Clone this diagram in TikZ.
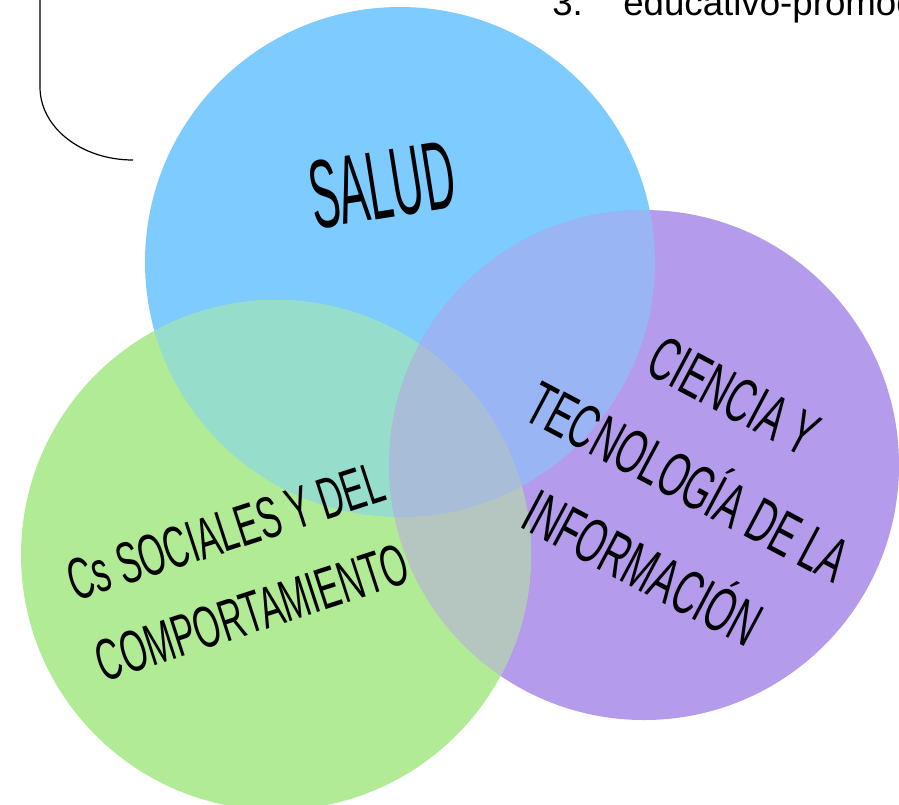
\documentclass[tikz,border=0pt]{standalone}
\usepackage{fontspec}
\setmainfont{Liberation Sans}
\newfontfamily\handA[FakeStretch=0.45]{Liberation Sans}
\newfontfamily\handB[FakeStretch=0.58]{Liberation Sans}
\definecolor{cblue}{RGB}{126,203,255}
\definecolor{cgreen}{RGB}{178,235,150}
\definecolor{cpurple}{RGB}{181,155,235}
\definecolor{cbg}{RGB}{151,221,204}
\definecolor{cbp}{RGB}{153,181,243}
\definecolor{cgp}{RGB}{181,197,191}
\definecolor{cbgp}{RGB}{168,189,216}
\begin{document}
\begin{tikzpicture}[x=0.75pt,y=-0.75pt,
  lbl/.style={text=black, align=center, inner sep=0pt}]
\useasboundingbox (0,0) rectangle (899,804);
\clip (0,0) rectangle (899,804);
\fill[white] (0,0) rectangle (899,804);
\coordinate (cB) at (400,262);
\coordinate (cP) at (644,465);
\coordinate (cG) at (276,555);
\def\rr{191.25pt}
% circles
\fill[cblue] (cB) circle [radius=\rr];
\fill[cpurple] (cP) circle [radius=\rr];
\fill[cgreen] (cG) circle [radius=\rr];
% pairwise overlaps
\begin{scope}
  \clip (cB) circle [radius=\rr];
  \fill[cbp] (cP) circle [radius=\rr];
  \fill[cbg] (cG) circle [radius=\rr];
\end{scope}
\begin{scope}
  \clip (cP) circle [radius=\rr];
  \fill[cgp] (cG) circle [radius=\rr];
\end{scope}
\begin{scope}
  \clip (cB) circle [radius=\rr];
  \clip (cP) circle [radius=\rr];
  \fill[cbgp] (cG) circle [radius=\rr];
\end{scope}
% bracket
\coordinate (b0) at (40,-5);
\coordinate (b1) at (40,87);
\coordinate (b2) at (133,160);
\draw[black, line width=0.9pt] (b0) -- (b1) .. controls (40,128) and (82,160) .. (b2);
% top text
\node[anchor=base west, inner sep=0pt, font=\fontsize{27.5}{30}\selectfont] (t3) at (552,15) {3.};
\node[anchor=base west, inner sep=0pt, font=\fontsize{27.5}{30}\selectfont] (tedu) at (623,15) {educativo-promocional};
% labels
\node[lbl, rotate=9, font=\handA\fontsize{73}{80}\selectfont] (salud) at (382,185) {SALUD};
\node[lbl, rotate=-28, font=\handB\fontsize{47}{73}\selectfont] (cien) at (688,482) {CIENCIA Y\\TECNOLOGÍA DE LA\\INFORMACIÓN};
\node[lbl, rotate=18, font=\handB\fontsize{44}{64}\selectfont] (soc) at (239,572) {Cs SOCIALES Y DEL\\COMPORTAMIENTO};
\end{tikzpicture}
\end{document}
